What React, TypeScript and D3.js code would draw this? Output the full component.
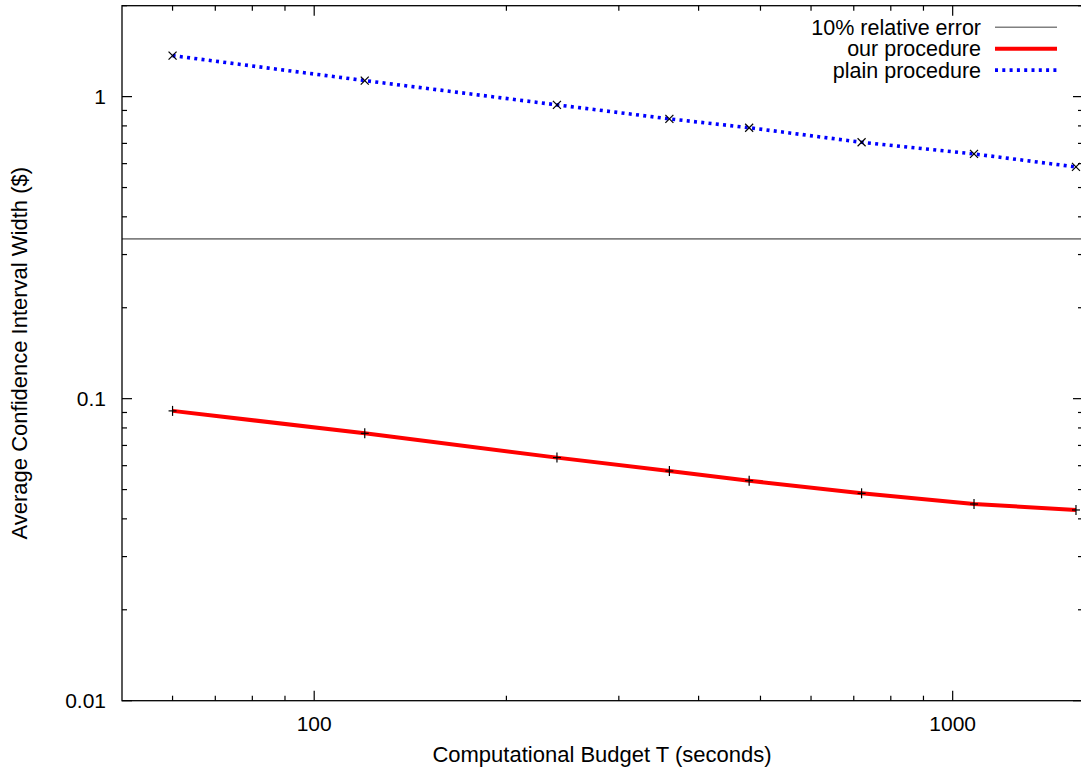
import React from 'react';
import * as d3 from 'd3';

// budgets T (seconds)
const budgets = [60, 120, 240, 360, 480, 720, 1080, 1560];
const ourProcedure = [0.0911, 0.0768, 0.0638, 0.0576, 0.0535, 0.0486, 0.0448, 0.0428];
const plainProcedure = [1.367, 1.13, 0.939, 0.844, 0.789, 0.706, 0.646, 0.585];
const relErrorLevel = 0.338;

const xMajor = [100, 1000];
const xMinor = [60, 70, 80, 90, 200, 300, 400, 500, 600, 700, 800, 900];
const yMajor = [0.01, 0.1, 1];
const yMinor = [0.02, 0.03, 0.04, 0.05, 0.06, 0.07, 0.08, 0.09, 0.2, 0.3, 0.4, 0.5, 0.6, 0.7, 0.8, 0.9, 2];

const legendItems = ['10% relative error', 'our procedure', 'plain procedure'];

const W = 1081;
const H = 768;
const frame = { left: 122, right: 1083, top: 5.7, bottom: 700.7 };
const FONT = '"Liberation Sans", Arial, sans-serif';

export default function App() {
  const x = d3.scaleLog().domain([50, 1600]).range([frame.left, frame.right]);
  const y = d3.scaleLog().domain([0.01, 2]).range([frame.bottom, frame.top]);

  const line = d3
    .line<number>()
    .x((_, i) => x(budgets[i]))
    .y((d) => y(d));

  const majorLen = 10;
  const minorLen = 5;

  return (
    <svg
      width={W}
      height={H}
      style={{ position: 'absolute', left: 0, top: 0, background: '#fff' }}
      fontFamily={FONT}
    >
      {/* ticks, mirrored on all four sides */}
      <g stroke="#000" strokeWidth={1.2}>
        {xMajor.map((t) => (
          <g key={'xM' + t}>
            <line x1={x(t)} x2={x(t)} y1={frame.bottom} y2={frame.bottom - majorLen} />
            <line x1={x(t)} x2={x(t)} y1={frame.top} y2={frame.top + majorLen} />
          </g>
        ))}
        {xMinor.map((t) => (
          <g key={'xm' + t}>
            <line x1={x(t)} x2={x(t)} y1={frame.bottom} y2={frame.bottom - minorLen} />
            <line x1={x(t)} x2={x(t)} y1={frame.top} y2={frame.top + minorLen} />
          </g>
        ))}
        {yMajor.map((t) => (
          <g key={'yM' + t}>
            <line x1={frame.left} x2={frame.left + majorLen} y1={y(t)} y2={y(t)} />
            <line x1={frame.right} x2={frame.right - majorLen} y1={y(t)} y2={y(t)} />
          </g>
        ))}
        {yMinor.map((t) => (
          <g key={'ym' + t}>
            <line x1={frame.left} x2={frame.left + minorLen} y1={y(t)} y2={y(t)} />
            <line x1={frame.right} x2={frame.right - minorLen} y1={y(t)} y2={y(t)} />
          </g>
        ))}
      </g>

      {/* tick labels */}
      <g fontSize={21} fill="#000">
        {yMajor.map((t) => (
          <text key={'yl' + t} x={frame.left - 16} y={y(t)} dy="0.35em" textAnchor="end">
            {String(t)}
          </text>
        ))}
        {xMajor.map((t) => (
          <text key={'xl' + t} x={x(t)} y={frame.bottom + 30} textAnchor="middle">
            {String(t)}
          </text>
        ))}
      </g>

      {/* axis titles */}
      <text x={602} y={762} fontSize={22} textAnchor="middle">
        Computational Budget T (seconds)
      </text>
      <text
        transform={`translate(27, ${(frame.top + frame.bottom) / 2}) rotate(-90)`}
        fontSize={22}
        textAnchor="middle"
      >
        Average Confidence Interval Width ($)
      </text>

      {/* 10% relative error */}
      <line
        x1={frame.left}
        x2={frame.right}
        y1={y(relErrorLevel)}
        y2={y(relErrorLevel)}
        stroke="#808080"
        strokeWidth={1.6}
      />

      {/* our procedure */}
      <path d={line(ourProcedure) ?? ''} fill="none" stroke="#ff0000" strokeWidth={4} />
      <g stroke="#000" strokeWidth={1.2}>
        {ourProcedure.map((v, i) => (
          <g key={'op' + i}>
            <line x1={x(budgets[i]) - 4} x2={x(budgets[i]) + 4} y1={y(v)} y2={y(v)} />
            <line x1={x(budgets[i])} x2={x(budgets[i])} y1={y(v) - 5} y2={y(v) + 5} />
          </g>
        ))}
      </g>

      {/* plain procedure */}
      <path
        d={line(plainProcedure) ?? ''}
        fill="none"
        stroke="#0000ff"
        strokeWidth={3.6}
        strokeDasharray="3,4.3"
      />
      <g stroke="#000" strokeWidth={1.2}>
        {plainProcedure.map((v, i) => (
          <g key={'pp' + i}>
            <line x1={x(budgets[i]) - 4} x2={x(budgets[i]) + 4} y1={y(v) - 4} y2={y(v) + 4} />
            <line x1={x(budgets[i]) - 4} x2={x(budgets[i]) + 4} y1={y(v) + 4} y2={y(v) - 4} />
          </g>
        ))}
      </g>

      {/* frame */}
      <rect
        x={frame.left}
        y={frame.top}
        width={frame.right - frame.left}
        height={frame.bottom - frame.top}
        fill="none"
        stroke="#000"
        strokeWidth={1.3}
      />

      {/* legend */}
      <g fontSize={21.5}>
        {legendItems.map((label, i) => {
          const ly = 27.3 + i * 21.4;
          return (
            <g key={label}>
              <text x={981} y={ly} dy="0.35em" textAnchor="end">
                {label}
              </text>
              {i === 0 && <line x1={995} x2={1057} y1={ly} y2={ly} stroke="#808080" strokeWidth={1.4} />}
              {i === 1 && <line x1={995} x2={1057} y1={ly} y2={ly} stroke="#ff0000" strokeWidth={4} />}
              {i === 2 && (
                <line
                  x1={995}
                  x2={1057}
                  y1={ly}
                  y2={ly}
                  stroke="#0000ff"
                  strokeWidth={3.6}
                  strokeDasharray="3,4.3"
                />
              )}
            </g>
          );
        })}
      </g>
    </svg>
  );
}
